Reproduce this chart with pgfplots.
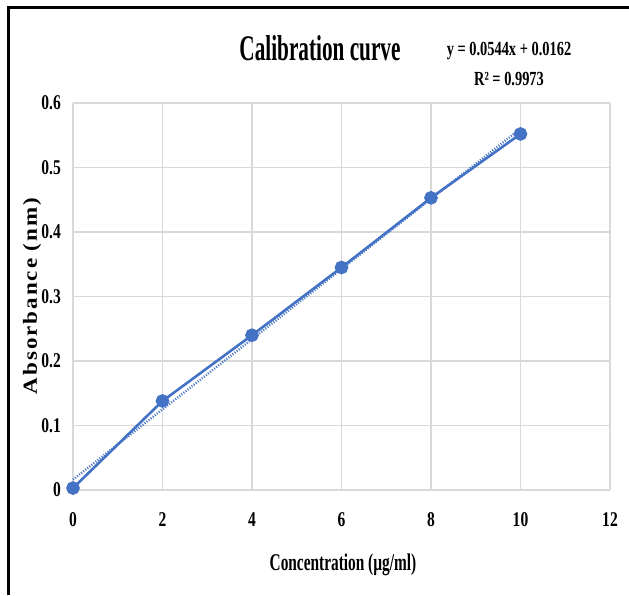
\documentclass[border=0pt]{standalone}
\usepackage{fontspec}
\setmainfont{Liberation Serif}
\newfontfamily\titlef[FakeStretch=0.59]{Liberation Serif}
\newfontfamily\eqf[FakeStretch=0.72]{Liberation Serif}
\newfontfamily\tickf[FakeStretch=0.74]{Liberation Serif}
\newfontfamily\xlabf[FakeStretch=0.64]{Liberation Serif}
\newfontfamily\ylabf[FakeStretch=1.15,LetterSpace=10]{Liberation Serif}
\usepackage{pgfplots}
\pgfplotsset{compat=1.18}
\definecolor{blueA}{HTML}{4472C4}
\definecolor{gridg}{HTML}{D9D9D9}
\begin{document}
\begin{tikzpicture}[x=1pt,y=1pt]
\useasboundingbox (0,0) rectangle (629,595);
\fill[white] (0,0) rectangle (629,595);
\draw[black, line width=3pt] (8,0) -- (8,587) -- (629,587);
\begin{axis}[
  at={(73pt,105pt)}, anchor=south west,
  scale only axis, width=537pt, height=387pt,
  xmin=0, xmax=12, ymin=0, ymax=0.6,
  xtick={0,2,4,6,8,10,12}, xticklabels={0,2,4,6,8,10,12},
  ytick={0,0.1,0.2,0.3,0.4,0.5,0.6}, yticklabels={0,0.1,0.2,0.3,0.4,0.5,0.6},
  grid=major, grid style={draw=gridg, line width=1.3pt},
  axis line style={draw=none},
  major tick length=0pt,
  tick label style={font=\fontsize{21}{21}\selectfont\tickf\bfseries},
  xticklabel style={inner sep=0pt, anchor=north, yshift=-22pt},
  yticklabel style={inner sep=0pt, anchor=east, xshift=-12pt},
  clip=false,
]
\addplot[blueA, line width=2.4pt, dash pattern=on 1pt off 1.6pt] coordinates {(0,0.0162) (10,0.5602)};
\addplot[blueA, line width=2.6pt, mark=*, mark size=5.5pt, mark options={solid, fill=blueA, draw=blueA}]
  coordinates {(0,0.003) (2,0.138) (4,0.240) (6,0.345) (8,0.453) (10,0.552)};
\end{axis}
\node at (320,547) {\fontsize{36}{36}\selectfont\titlef\bfseries Calibration curve};
\node at (509,544) {\fontsize{20}{20}\selectfont\eqf\bfseries y = 0.0544x + 0.0162};
\node at (509,516) {\fontsize{20}{20}\selectfont\eqf\bfseries R² = 0.9973};
\node at (343,30) {\fontsize{24}{24}\selectfont\xlabf\bfseries Concentration (µg/ml)};
\node[rotate=90] at (32,299) {\fontsize{20}{20}\selectfont\ylabf\bfseries Absorbance (nm)};
\end{tikzpicture}
\end{document}
